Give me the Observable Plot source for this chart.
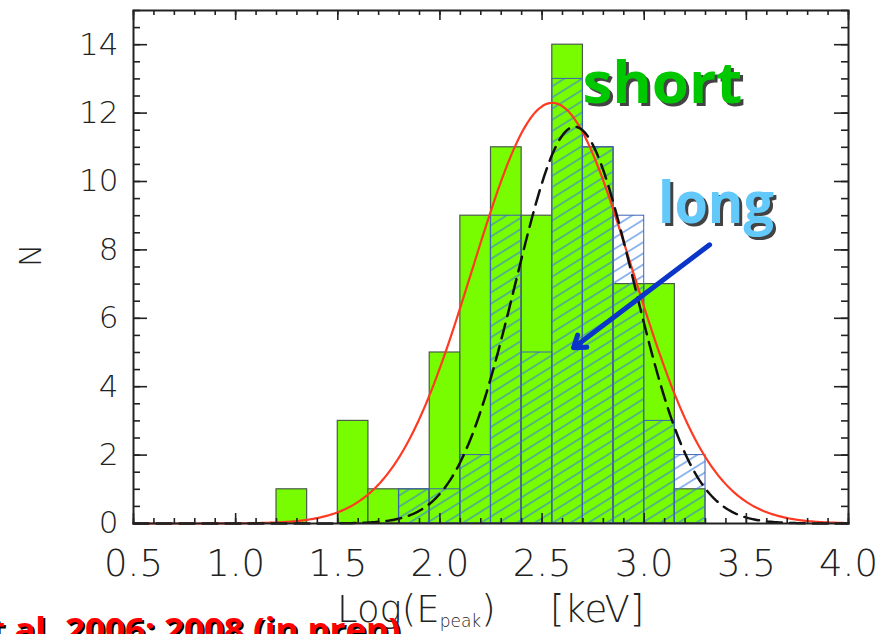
<!DOCTYPE html>
<html>
<head>
<meta charset="utf-8">
<script src="https://cdn.jsdelivr.net/npm/d3@7"></script>
<script src="https://cdn.jsdelivr.net/npm/@observablehq/plot@0.6"></script>
<style>
  html, body { margin: 0; padding: 0; background: #fff; }
  #chart { width: 881px; height: 634px; overflow: hidden; }
</style>
</head>
<body>
<div id="chart"></div>
<script>
// Histogram bins of Log(Epeak) (lower edges, width 0.15)
const binStart = [1.20, 1.35, 1.50, 1.65, 1.80, 1.95, 2.10, 2.25, 2.40, 2.55, 2.70, 2.85, 3.00, 3.15];
const binWidth = 0.15;
const shortCounts = [1, 0, 3, 1, 1, 5, 9, 11, 9, 14, 11, 7, 7, 1];
const longCounts  = [0, 0, 0, 0, 1, 1, 2, 9, 5, 13, 11, 9, 3, 2];

// Gaussian fits to the two distributions
const fitName  = ["solid", "dashed"];
const fitAmp   = [12.3, 11.6];
const fitMean  = [2.55, 2.66];
const fitSigma = [0.39, 0.29];

// Axis ticks
const xTicks = [0.5, 1.0, 1.5, 2.0, 2.5, 3.0, 3.5, 4.0];
const yTicks = [0, 2, 4, 6, 8, 10, 12, 14];

// Annotations
const labelText  = ["short", "long"];
const labelColor = ["#00c800", "#62c9fa"];
const labelX     = [3.089, 3.351];
const labelY     = [12.83, 9.32];
const labelWidth = [160, 116];
const arrowFrom  = [3.32, 8.15];
const arrowTo    = [2.654, 5.14];

const W = 881, H = 634;
const mL = 133, mR = 33, mT = 10, mB = 111;
const FW = W - mL - mR, FH = H - mT - mB;

const bins = binStart.map((x0, i) => ({
  x0, x1: +(x0 + binWidth).toFixed(2), short: shortCounts[i], long: longCounts[i]
}));

const grid = d3.range(0.5, 4.0 + 1e-9, 0.01);
const curves = fitName.flatMap((name, k) => grid.map(x => ({
  name, x, y: fitAmp[k] * Math.exp(-0.5 * ((x - fitMean[k]) / fitSigma[k]) ** 2)
})));

const minorX = d3.range(5, 41).map(i => i / 10);
const minorY = d3.range(0, 31).map(i => i / 2);
const tickStyle = {stroke: "#222", strokeWidth: 1.6};

const labels = labelText.map((t, i) => ({t, x: labelX[i], y: labelY[i], c: labelColor[i]}));
const labelFont = {fontFamily: "'Comic Sans MS', 'Open Sans', sans-serif", fontWeight: 700, fontSize: 58, textAnchor: "middle"};

const chart = Plot.plot({
  width: W, height: H,
  marginLeft: mL, marginRight: mR, marginTop: mT, marginBottom: mB,
  x: {domain: [0.5, 4.0]},
  y: {domain: [0, 15]},
  style: {fontFamily: "'DejaVu Sans', sans-serif", color: "#222", background: "white", overflow: "visible"},
  marks: [
    Plot.rect(bins.filter(d => d.short > 0), {x1: "x0", x2: "x1", y1: 0, y2: "short", fill: "#77fc00", stroke: "#4b5a4b", strokeWidth: 1.2}),
    Plot.rect(bins.filter(d => d.long > 0), {x1: "x0", x2: "x1", y1: 0, y2: "long", fill: "url(#hatch)", stroke: "#3c63b5", strokeWidth: 1}),
    Plot.line(curves.filter(d => d.name === "solid"), {x: "x", y: "y", stroke: "#ff3a22", strokeWidth: 2.2}),
    Plot.line(curves.filter(d => d.name === "dashed"), {x: "x", y: "y", stroke: "#111", strokeWidth: 2.5, strokeDasharray: "15,8"}),
    // inward ticks on all four sides
    Plot.ruleX(minorX, {x: d => d, insetTop: FH - 5, ...tickStyle}),
    Plot.ruleX(minorX, {x: d => d, insetBottom: FH - 5, ...tickStyle}),
    Plot.ruleX(xTicks, {x: d => d, insetTop: FH - 10, ...tickStyle}),
    Plot.ruleX(xTicks, {x: d => d, insetBottom: FH - 10, ...tickStyle}),
    Plot.ruleY(minorY, {y: d => d, insetRight: FW - 7, ...tickStyle}),
    Plot.ruleY(minorY, {y: d => d, insetLeft: FW - 7, ...tickStyle}),
    Plot.ruleY(yTicks, {y: d => d, insetRight: FW - 14, ...tickStyle}),
    Plot.ruleY(yTicks, {y: d => d, insetLeft: FW - 14, ...tickStyle}),
    Plot.frame({stroke: "#222", strokeWidth: 2}),
    Plot.axisX(xTicks, {tickSize: 0, tickPadding: 26, tickFormat: d3.format(".1f"), fontSize: 37, fontWeight: 300, label: null}),
    Plot.axisY(yTicks, {tickSize: 0, tickPadding: 15, fontSize: 31, fontWeight: 300, label: null}),
    Plot.text(["N"], {text: d => d, frameAnchor: "left", dx: -102, rotate: -90, fontSize: 31, fontWeight: 300}),
    Plot.arrow([{from: arrowFrom, to: arrowTo}], {
      x1: d => d.from[0], y1: d => d.from[1], x2: d => d.to[0], y2: d => d.to[1],
      stroke: "#0a35c8", strokeWidth: 5, headLength: 4, headAngle: 70
    }),
    // drop shadows then coloured labels
    Plot.text(labels, {x: "x", y: "y", text: "t", dx: 3, dy: 3, fill: "#222", fillOpacity: 0.85, ...labelFont}),
    Plot.text(labels, {x: "x", y: "y", text: "t", fill: "c", ...labelFont})
  ]
});

document.getElementById("chart").appendChild(chart);
const svg = d3.select(chart);

// diagonal hatching for the "long" histogram
svg.insert("defs", ":first-child").html(
  '<pattern id="hatch" patternUnits="userSpaceOnUse" width="12" height="9.5" patternTransform="rotate(-32)">' +
  '<line x1="-1" y1="4.75" x2="13" y2="4.75" stroke="#3a7fe0" stroke-width="1.3" stroke-opacity="0.85"/></pattern>'
);

// fixed widths for the annotation words
labelText.forEach((t, i) => {
  svg.selectAll("text").filter(function () { return this.textContent === t; })
    .attr("textLength", labelWidth[i]).attr("lengthAdjust", "spacingAndGlyphs");
});

// x-axis title with subscript
const xt = svg.append("text")
  .attr("x", 337).attr("y", 622)
  .attr("text-anchor", "start")
  .attr("font-family", "'DejaVu Sans', sans-serif")
  .attr("font-weight", 300)
  .attr("font-size", 37)
  .attr("fill", "#222");
xt.append("tspan").text("Log(E");
xt.append("tspan").attr("font-size", 17).attr("dy", 5).text("peak");
xt.append("tspan").attr("dy", -5).text(")");
xt.append("tspan").attr("x", 550).text("[keV]");

// reference caption, partly outside the canvas
const capText = "t al. 2006; 2008 (in prep)";
const capFont = {family: "'Comic Sans MS', 'Open Sans', sans-serif", size: 33};
[["#000", 2, 2], ["#ff0000", 0, 0]].forEach(([fill, ox, oy]) => {
  svg.append("text")
    .attr("x", -10 + ox).attr("y", 641 + oy)
    .attr("text-anchor", "start")
    .attr("font-family", capFont.family)
    .attr("font-weight", 700)
    .attr("font-size", capFont.size)
    .attr("fill", fill)
    .attr("textLength", 410).attr("lengthAdjust", "spacingAndGlyphs")
    .text(capText);
});
</script>
</body>
</html>
